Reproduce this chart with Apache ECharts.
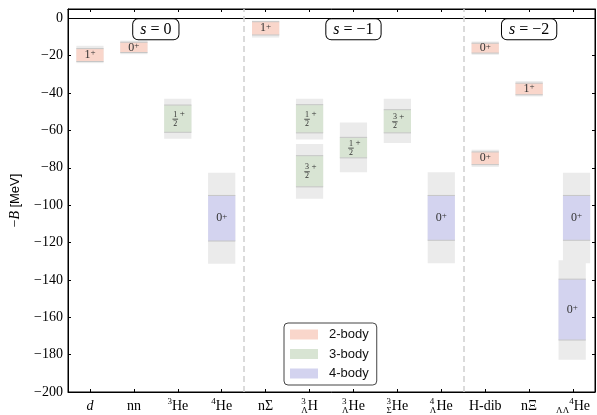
<!DOCTYPE html>
<html>
<head>
<meta charset="utf-8">
<script src="https://cdn.jsdelivr.net/npm/echarts@6/dist/echarts.min.js"></script>
<style>
  html, body { margin: 0; padding: 0; background: #fff; }
  #chart { width: 597px; height: 415px; }
</style>
</head>
<body>
<div id="chart"></div>
<script>
// Systems along the horizontal axis
const systems = ['d', 'nn', '3He', '4He', 'nΣ', '3ΛH', '3ΛHe', '3ΣHe', '4ΛHe', 'H-dib', 'nΞ', 'ΛΛ4He'];
const systemLabels = [
  '{it|d}', '{r|nn}', '{sup|3}{r|He}', '{sup|4}{r|He}', '{r|nΣ}',
  '{pre|3}{sub|Λ}{r|H}', '{pre|3}{sub|Λ}{r|He}', '{pre|3}{sub|Σ}{r|He}', '{pre|4}{sub|Λ}{r|He}',
  '{r|H-dib}', '{r|nΞ}', '{sub|ΛΛ}{sup|4}{r|He}'
];

// One entry per state: axis position, outer (grey) range and inner (coloured) range of −B in MeV
const statePos  = [0, 1, 2, 3, 4, 5, 5, 6, 7, 8, 9, 9, 10, 11.08, 10.98];
const outerHigh = [-14.7, -11.9, -43.0, -82.7, -1.2, -43.0, -67.2, -55.7, -43.0, -82.4, -12.4, -70.3, -33.6, -82.7, -129.5];
const innerHigh = [-16.2, -12.8, -46.4, -94.8, -1.8, -46.2, -73.5, -63.7, -48.9, -94.8, -13.3, -71.5, -34.7, -94.8, -139.6];
const innerLow  = [-23.1, -18.3, -61.0, -119.2, -8.9, -61.3, -90.2, -74.7, -61.3, -118.8, -18.6, -78.3, -40.9, -118.8, -172.2];
const outerLow  = [-24.0, -19.2, -64.5, -131.3, -10.3, -64.9, -96.6, -82.4, -66.7, -131.1, -19.5, -79.5, -41.8, -131.1, -182.8];
const stateSpin = ['1', '0', '1/2', '0', '1', '1/2', '3/2', '1/2', '3/2', '0', '0', '0', '1', '0', '0'];
const stateBody = [2, 2, 3, 4, 2, 3, 3, 3, 3, 4, 2, 2, 2, 4, 4];

// Strangeness sectors and their separators
const sectorNames = ['0', '−1', '−2'];
const sectorPos = [1.5, 6, 10];
const sectorDividers = [3.5, 8.5];

// Body classes shown in the legend
const bodyClasses = [2, 3, 4];
const bodyNames = ['2-body', '3-body', '4-body'];

const SERIF = '"Liberation Serif", "DejaVu Serif", serif';
const SANS = '"Liberation Sans", Arial, sans-serif';
const BODY_COLORS = { 2: '#f9d6cb', 3: '#d8e4d3', 4: '#d3d3ef' };
const GREY = '#ebebeb';
const EDGE = '#c6c6c6';
const HALF_WIDTH = 0.31;
const LABEL_COLOR = '#333';

function spinLabel(spin, cx, cy) {
  if (spin.indexOf('/') < 0) {
    return [{
      type: 'text', x: cx, y: cy,
      style: {
        text: '{n|' + spin + '}{p|+}',
        align: 'center', verticalAlign: 'middle',
        rich: {
          n: { fontSize: 12, fontFamily: SERIF, fill: LABEL_COLOR, lineHeight: 13 },
          p: { fontSize: 9, fontFamily: SERIF, fill: LABEL_COLOR, lineHeight: 9, verticalAlign: 'top' }
        }
      }
    }];
  }
  const parts = spin.split('/');
  const fx = cx - 2.5;
  return [
    { type: 'text', x: fx, y: cy - 4, style: { text: parts[0], align: 'center', verticalAlign: 'middle', fontSize: 8, fontFamily: SERIF, fill: LABEL_COLOR } },
    { type: 'line', shape: { x1: fx - 2.8, y1: cy + 0.5, x2: fx + 2.8, y2: cy + 0.5 }, style: { stroke: LABEL_COLOR, lineWidth: 0.8 } },
    { type: 'text', x: fx, y: cy + 5, style: { text: parts[1], align: 'center', verticalAlign: 'middle', fontSize: 8, fontFamily: SERIF, fill: LABEL_COLOR } },
    { type: 'text', x: fx + 7, y: cy - 5, style: { text: '+', align: 'center', verticalAlign: 'middle', fontSize: 9, fontFamily: SERIF, fill: LABEL_COLOR } }
  ];
}

function makeStateRenderer(body) {
  return function (params, api) {
    const x = api.value(0);
    const o1 = api.coord([x - HALF_WIDTH, api.value(1)]);
    const o2 = api.coord([x + HALF_WIDTH, api.value(4)]);
    const i1 = api.coord([x - HALF_WIDTH, api.value(2)]);
    const i2 = api.coord([x + HALF_WIDTH, api.value(3)]);
    const idx = api.value(5);
    const children = [
      { type: 'rect', shape: { x: o1[0], y: o1[1], width: o2[0] - o1[0], height: o2[1] - o1[1] }, style: { fill: GREY } },
      { type: 'rect', shape: { x: i1[0], y: i1[1], width: i2[0] - i1[0], height: i2[1] - i1[1] }, style: { fill: BODY_COLORS[body] } },
      { type: 'line', shape: { x1: i1[0], y1: i1[1], x2: i2[0], y2: i1[1] }, style: { stroke: EDGE, lineWidth: 1 } },
      { type: 'line', shape: { x1: i1[0], y1: i2[1], x2: i2[0], y2: i2[1] }, style: { stroke: EDGE, lineWidth: 1 } }
    ];
    const cx = (i1[0] + i2[0]) / 2;
    const cy = (i1[1] + i2[1]) / 2;
    return { type: 'group', children: children.concat(spinLabel(stateSpin[idx], cx, cy)) };
  };
}

const stateSeries = bodyClasses.map(function (body, k) {
  const data = [];
  for (let i = 0; i < statePos.length; i++) {
    if (stateBody[i] === body) {
      data.push([statePos[i], outerHigh[i], innerHigh[i], innerLow[i], outerLow[i], i]);
    }
  }
  return {
    name: bodyNames[k],
    type: 'custom',
    xAxisIndex: 0, yAxisIndex: 0,
    itemStyle: { color: BODY_COLORS[body] },
    renderItem: makeStateRenderer(body),
    encode: { x: 0, y: [1, 4] },
    data: data,
    z: 3,
    silent: true
  };
});

// Sector captions sit just below the zero line
const sectorSeries = {
  name: 'sectors',
  type: 'custom',
  xAxisIndex: 0, yAxisIndex: 0,
  silent: true,
  z: 5,
  data: sectorPos.map(function (p, i) { return [p, 0, i]; }),
  renderItem: function (params, api) {
    const pt = api.coord([api.value(0), api.value(1)]);
    return {
      type: 'text', x: pt[0], y: pt[1] + 1,
      style: {
        text: '{it|s} = ' + sectorNames[api.value(2)],
        align: 'center', verticalAlign: 'top',
        fontSize: 16, fontFamily: SERIF, fill: '#000',
        backgroundColor: '#fff', borderColor: '#000', borderWidth: 1, borderRadius: 5,
        padding: [1, 7, 1, 7], lineHeight: 18,
        rich: { it: { fontSize: 16, fontFamily: SERIF, fontStyle: 'italic', fill: '#000', lineHeight: 18 } }
      }
    };
  },
  markLine: {
    silent: true,
    symbol: 'none',
    label: { show: false },
    data: [
      { yAxis: 0, lineStyle: { color: '#000', type: 'solid', width: 1 } }
    ].concat(sectorDividers.map(function (d) {
      return { xAxis: d, lineStyle: { color: '#cfcfcf', type: [6, 4], width: 1.5 } };
    }))
  }
};

const tickStyle = { show: true, inside: true, length: 3, lineStyle: { color: '#000', width: 1 } };
const axisLineStyle = { show: true, onZero: false, lineStyle: { color: '#000', width: 1 } };

const chart = echarts.init(document.getElementById('chart'), null, { renderer: 'canvas' });
chart.setOption({
  animation: false,
  backgroundColor: '#fff',
  grid: { left: 65, right: 2, top: 9, bottom: 22, show: true, borderColor: '#000', borderWidth: 1, backgroundColor: 'transparent' },
  legend: {
    data: bodyNames,
    orient: 'vertical',
    left: 284, top: 323,
    icon: 'rect',
    itemWidth: 28, itemHeight: 10, itemGap: 4.5,
    padding: [4, 8, 4, 6],
    backgroundColor: '#fff',
    borderColor: '#444', borderWidth: 1, borderRadius: 4,
    selectedMode: false,
    textStyle: { fontFamily: SANS, fontSize: 13, color: '#111', lineHeight: 15, padding: [0, 0, 0, 6] }
  },
  xAxis: [
    { type: 'value', min: -0.5, max: 11.5, show: false, axisLine: { show: false, onZero: false } },
    {
      type: 'category', position: 'bottom', data: systems, boundaryGap: true,
      axisLine: axisLineStyle,
      axisTick: Object.assign({ alignWithLabel: true, interval: 0 }, tickStyle),
      splitLine: { show: false },
      axisLabel: {
        interval: 0, margin: 5, color: '#000',
        fontFamily: SERIF, fontSize: 14,
        formatter: function (v, i) { return systemLabels[i]; },
        rich: {
          r: { fontFamily: SERIF, fontSize: 14, color: '#000', lineHeight: 18 },
          it: { fontFamily: SERIF, fontSize: 14, fontStyle: 'italic', color: '#000', lineHeight: 18 },
          sup: { fontFamily: SERIF, fontSize: 9, color: '#000', lineHeight: 10, verticalAlign: 'top' },
          sub: { fontFamily: SERIF, fontSize: 9, color: '#000', lineHeight: 10, verticalAlign: 'bottom' },
          pre: { fontFamily: SERIF, fontSize: 9, color: '#000', lineHeight: 10, verticalAlign: 'top', width: 0, align: 'left' }
        }
      }
    },
    {
      type: 'category', position: 'top', data: systems, boundaryGap: true,
      axisLine: axisLineStyle,
      axisTick: Object.assign({ alignWithLabel: true, interval: 0 }, tickStyle),
      axisLabel: { show: false },
      splitLine: { show: false }
    }
  ],
  yAxis: [
    {
      type: 'value', position: 'left', min: -200, max: 5, interval: 20,
      axisLine: axisLineStyle,
      axisTick: tickStyle,
      splitLine: { show: false },
      axisLabel: {
        margin: 5, color: '#000', fontFamily: SERIF, fontSize: 14,
        formatter: function (v) { return (v % 20 === 0) ? String(v).replace('-', '−') : ''; }
      },
      name: '{m|−}{it|B} {sf|[MeV]}',
      nameLocation: 'middle', nameGap: 46, nameRotate: 90,
      nameTextStyle: {
        color: '#000',
        rich: {
          m: { fontFamily: SERIF, fontSize: 14, color: '#000' },
          it: { fontFamily: SERIF, fontSize: 14, fontStyle: 'italic', color: '#000' },
          sf: { fontFamily: SANS, fontSize: 13, color: '#000' }
        }
      }
    },
    {
      type: 'value', position: 'right', min: -200, max: 5, interval: 20,
      axisLine: axisLineStyle,
      axisTick: tickStyle,
      axisLabel: { show: false },
      splitLine: { show: false }
    }
  ],
  series: stateSeries.concat([sectorSeries])
});
</script>
</body>
</html>
